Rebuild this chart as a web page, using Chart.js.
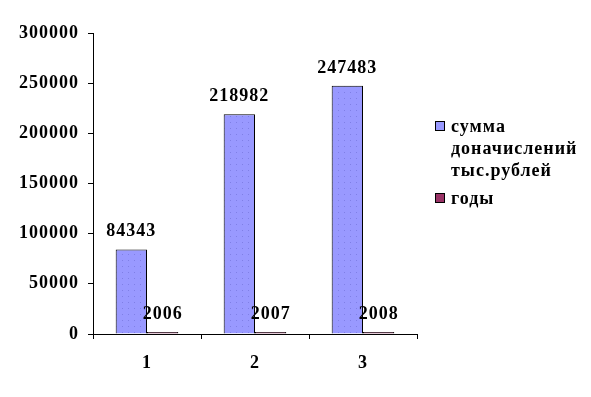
<!DOCTYPE html>
<html>
<head>
<meta charset="utf-8">
<script src="https://cdn.jsdelivr.net/npm/chart.js@4"></script>
<style>
    html, body { margin: 0; padding: 0; background: #fff; }
    #wrap { position: relative; width: 591px; height: 397px; }
    #legend { position: absolute; left: 431px; top: 115px; font: bold 18px "Liberation Serif", "Times New Roman", serif; letter-spacing: 1px; color: #000; }
    .item { position: relative; padding-left: 20px; line-height: 22px; }
    .item + .item { margin-top: 6px; }
    .box { position: absolute; left: 4px; top: 6px; width: 8px; height: 8px; border: 1px solid #000; }
</style>
</head>
<body>
<div id="wrap">
    <canvas id="chart" width="591" height="397"></canvas>
    <div id="legend"></div>
</div>
<script>
const categories = ["1", "2", "3"];
const sumLabel = ["сумма", "доначислений", "тыс.рублей"];
const sumValues = [84343, 218982, 247483];
const yearLabel = "годы";
const yearValues = [2006, 2007, 2008];

const blue = "#9999FF";
const maroon = "#993366";

function dotPattern() {
    const c = document.createElement("canvas");
    c.width = 6;
    c.height = 6;
    const g = c.getContext("2d");
    g.fillStyle = blue;
    g.fillRect(0, 0, 6, 6);
    g.fillStyle = "#7f7fe6";
    g.fillRect(2, 2, 1, 1);
    return g.createPattern(c, "repeat");
}

// wider, Times-like look for all canvas text
const spacing = {
    id: "spacing",
    beforeInit(chart) { chart.ctx.letterSpacing = "1px"; },
    beforeDraw(chart) { chart.ctx.letterSpacing = "1px"; }
};

const valueLabels = {
    id: "valueLabels",
    afterDatasetsDraw(chart) {
        const ctx = chart.ctx;
        ctx.save();
        ctx.letterSpacing = "1px";
        ctx.font = "bold 18px 'Liberation Serif', 'Times New Roman', serif";
        ctx.fillStyle = "#000";
        ctx.textAlign = "center";
        ctx.textBaseline = "alphabetic";
        chart.data.datasets.forEach((ds, i) => {
            chart.getDatasetMeta(i).data.forEach((bar, j) => {
                ctx.fillText(String(ds.data[j]), bar.x, bar.y - 13);
            });
        });
        ctx.restore();
    }
};

const tickFont = { family: "'Liberation Serif', 'Times New Roman', serif", size: 18, weight: "bold" };

new Chart(document.getElementById("chart").getContext("2d"), {
    type: "bar",
    data: {
        labels: categories,
        datasets: [{
            label: sumLabel.join(" "),
            data: sumValues,
            backgroundColor: dotPattern(),
            borderColor: "#000",
            borderWidth: 1,
            categoryPercentage: 0.58,
            barPercentage: 1.0
        }, {
            label: yearLabel,
            data: yearValues,
            backgroundColor: maroon,
            borderColor: "#000",
            borderWidth: 1,
            categoryPercentage: 0.58,
            barPercentage: 1.0
        }]
    },
    options: {
        responsive: false,
        animation: false,
        layout: { padding: { left: 0, right: 174, top: 33, bottom: 0 } },
        plugins: {
            legend: { display: false },
            tooltip: { enabled: false }
        },
        scales: {
            x: {
                grid: { drawOnChartArea: false, drawTicks: true, tickLength: 5, color: "#000", offset: true },
                border: { color: "#000", width: 1 },
                ticks: { color: "#000", font: tickFont, padding: 14 },
                afterFit(scale) { scale.height = 63; }
            },
            y: {
                min: 0,
                max: 300000,
                grid: { drawOnChartArea: false, drawTicks: true, tickLength: 5, color: "#000" },
                border: { color: "#000", width: 1 },
                ticks: { stepSize: 50000, color: "#000", font: tickFont, padding: 9, callback: v => String(v) },
                afterFit(scale) { scale.width = 93; }
            }
        }
    },
    plugins: [spacing, valueLabels]
});

const legend = document.getElementById("legend");
[[sumLabel, blue], [[yearLabel], maroon]].forEach(([lines, color]) => {
    const item = document.createElement("div");
    item.className = "item";
    const box = document.createElement("span");
    box.className = "box";
    box.style.background = color;
    item.appendChild(box);
    lines.forEach((t, k) => {
        if (k) item.appendChild(document.createElement("br"));
        item.appendChild(document.createTextNode(t));
    });
    legend.appendChild(item);
});
</script>
</body>
</html>
